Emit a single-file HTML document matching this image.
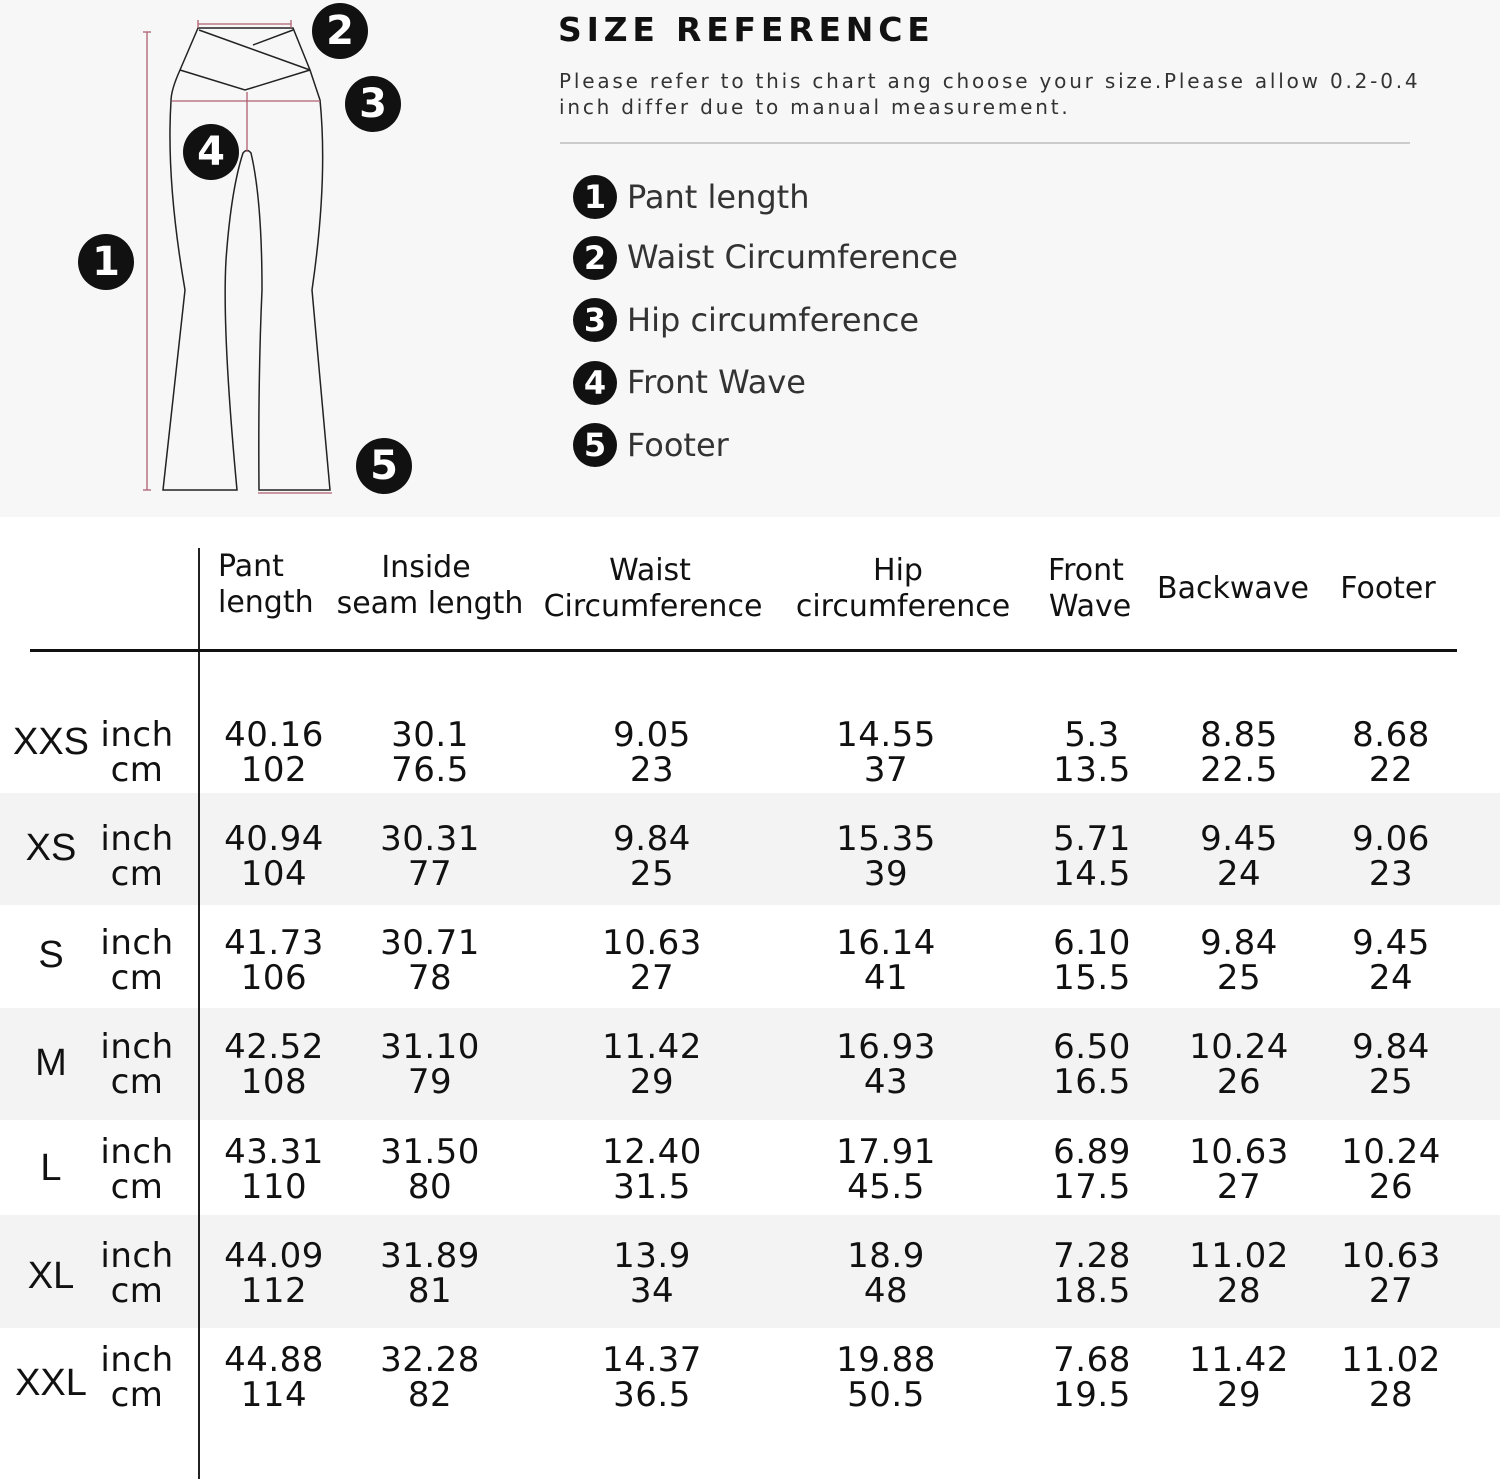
<!DOCTYPE html>
<html><head><meta charset="utf-8"><style>
body{margin:0;width:1500px;height:1479px;position:relative;background:#fff;font-family:"DejaVu Sans","Liberation Sans",sans-serif;color:#111;overflow:hidden}
.t{position:absolute;white-space:nowrap;transform:translate(-50%,-50%);line-height:1}
.l{position:absolute;white-space:nowrap;line-height:1}
.band{position:absolute;left:0;width:1500px;background:#f4f3f4}
.n{font-size:34px;letter-spacing:0.5px}
.h{font-size:30px}
.c{position:absolute;width:44px;height:44px;border-radius:50%;background:#111;color:#fff;font-weight:bold;font-size:32px;text-align:center;line-height:44px;transform:translate(-50%,-50%)}
</style></head><body>
<div style="position:absolute;left:0;top:0;width:1500px;height:517px;background:#f7f7f7"></div>
<svg style="position:absolute;left:0;top:0" width="520" height="517">
<g fill="none" stroke="#222" stroke-width="1.5">
<path d="M198,28 L180,70 Q171,90 171,101 Q166,180 185,290 L163,490 L237,490 Q222,330 226,260 Q231,190 243,153 Q247,148 251,153 Q262,200 262,290 Q258,380 259,490 L330,490 L312,290 Q328,180 320,100 L310,70 L293,28 Z"/>
<path d="M180,70 L245,90 L310,70"/>
<path d="M199,30 L310,70"/>
<path d="M253,45 L293,30"/>
</g>
<g stroke="#b06070" stroke-width="1.3">
<line x1="198" y1="24" x2="291" y2="24"/><line x1="198" y1="20" x2="198" y2="28"/><line x1="291" y1="20" x2="291" y2="28"/>
<line x1="172" y1="101" x2="320" y2="101"/>
<line x1="247" y1="92" x2="247" y2="152"/>
<line x1="147" y1="32" x2="147" y2="490"/><line x1="143" y1="32" x2="151" y2="32"/><line x1="143" y1="490" x2="151" y2="490"/>
<line x1="258" y1="493" x2="332" y2="493"/>
</g></svg>
<div class="c" style="left:106px;top:262px;width:56px;height:56px;line-height:56px;font-size:40px">1</div>
<div class="c" style="left:340px;top:31px;width:56px;height:56px;line-height:56px;font-size:40px">2</div>
<div class="c" style="left:373px;top:104px;width:56px;height:56px;line-height:56px;font-size:40px">3</div>
<div class="c" style="left:211px;top:152px;width:56px;height:56px;line-height:56px;font-size:40px">4</div>
<div class="c" style="left:384px;top:466px;width:56px;height:56px;line-height:56px;font-size:40px">5</div>

<div class="l" style="left:558px;top:13px;font-size:33px;font-weight:bold;letter-spacing:4.8px">SIZE REFERENCE</div>
<div class="l" style="left:559px;top:68px;font-size:20px;letter-spacing:2.8px;color:#333;line-height:26px">Please refer to this chart ang choose your size.Please allow 0.2-0.4<br>inch differ due to manual measurement.</div>
<div style="position:absolute;left:560px;top:142px;width:850px;height:2px;background:#ccc"></div>
<div class="c" style="left:595px;top:197px">1</div><div class="l" style="left:627px;top:181px;font-size:32px;color:#333">Pant length</div>
<div class="c" style="left:595px;top:258px">2</div><div class="l" style="left:627px;top:241px;font-size:32px;color:#333">Waist Circumference</div>
<div class="c" style="left:595px;top:320px">3</div><div class="l" style="left:627px;top:304px;font-size:32px;color:#333">Hip circumference</div>
<div class="c" style="left:595px;top:383px">4</div><div class="l" style="left:627px;top:366px;font-size:32px;color:#333">Front Wave</div>
<div class="c" style="left:595px;top:445px">5</div><div class="l" style="left:627px;top:429px;font-size:32px;color:#333">Footer</div>

<div class="band" style="top:793px;height:112px"></div>
<div class="band" style="top:1008px;height:112px"></div>
<div class="band" style="top:1215px;height:113px"></div>
<div style="position:absolute;left:198px;top:548px;width:2px;height:931px;background:#222"></div>
<div style="position:absolute;left:30px;top:649px;width:1427px;height:3px;background:#111"></div>

<div class="l h" style="left:218px;top:552px">Pant</div>
<div class="l h" style="left:218px;top:588px">length</div>
<div class="t h" style="left:426px;top:568px">Inside</div><div class="t h" style="left:430px;top:604px">seam length</div>
<div class="t h" style="left:650px;top:571px">Waist</div><div class="t h" style="left:653px;top:607px">Circumference</div>
<div class="t h" style="left:898px;top:571px">Hip</div><div class="t h" style="left:903px;top:607px">circumference</div>
<div class="t h" style="left:1086px;top:571px">Front</div><div class="t h" style="left:1090px;top:607px">Wave</div>
<div class="t h" style="left:1233px;top:589px">Backwave</div>
<div class="t h" style="left:1388px;top:589px">Footer</div>

<div id="rows"></div>
<script>
var d=[["XXS",742,735,["40.16","102"],["30.1","76.5"],["9.05","23"],["14.55","37"],["5.3","13.5"],["8.85","22.5"],["8.68","22"]],
["XS",848,839,["40.94","104"],["30.31","77"],["9.84","25"],["15.35","39"],["5.71","14.5"],["9.45","24"],["9.06","23"]],
["S",955,943,["41.73","106"],["30.71","78"],["10.63","27"],["16.14","41"],["6.10","15.5"],["9.84","25"],["9.45","24"]],
["M",1063,1047,["42.52","108"],["31.10","79"],["11.42","29"],["16.93","43"],["6.50","16.5"],["10.24","26"],["9.84","25"]],
["L",1168,1152,["43.31","110"],["31.50","80"],["12.40","31.5"],["17.91","45.5"],["6.89","17.5"],["10.63","27"],["10.24","26"]],
["XL",1276,1256,["44.09","112"],["31.89","81"],["13.9","34"],["18.9","48"],["7.28","18.5"],["11.02","28"],["10.63","27"]],
["XXL",1383,1360,["44.88","114"],["32.28","82"],["14.37","36.5"],["19.88","50.5"],["7.68","19.5"],["11.42","29"],["11.02","28"]]];
var xs=[274,430,652,886,1092,1239,1391],h="";
d.forEach(function(r){var y=r[2];
h+='<div class="t" style="left:51px;top:'+r[1]+'px;font-size:38px;font-family:\'Liberation Sans\',sans-serif">'+r[0]+'</div>';
h+='<div class="t n" style="left:137px;top:'+(y)+'px">inch</div><div class="t n" style="left:137px;top:'+(y+35)+'px">cm</div>';
for(var i=0;i<7;i++){h+='<div class="t n" style="left:'+xs[i]+'px;top:'+y+'px">'+r[i+3][0]+'</div><div class="t n" style="left:'+xs[i]+'px;top:'+(y+35)+'px">'+r[i+3][1]+'</div>';}
});
document.getElementById('rows').innerHTML=h;
</script>
</body></html>
